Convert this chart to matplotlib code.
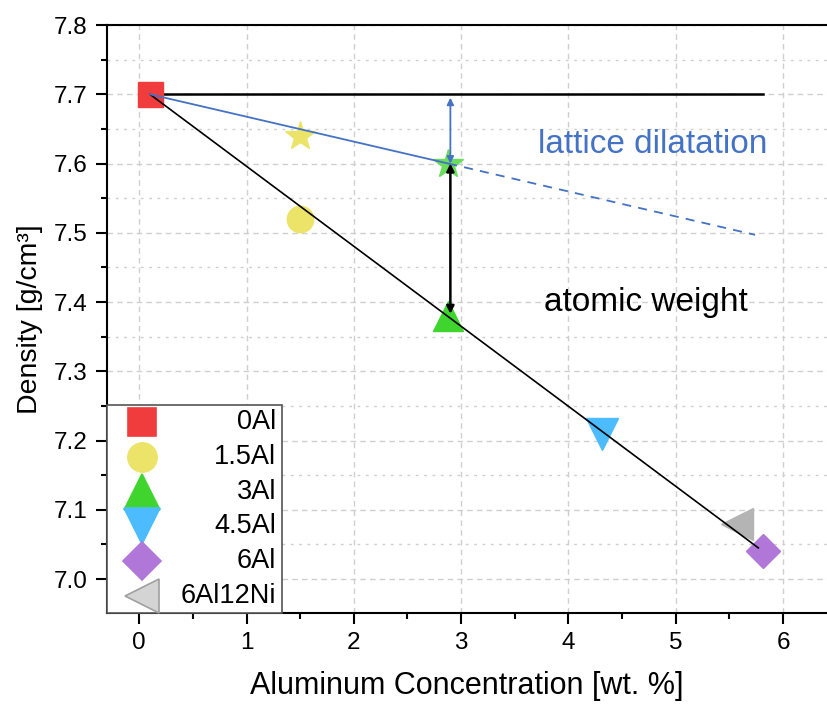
import numpy as np
import matplotlib
matplotlib.use('Agg')
from matplotlib import pyplot as plt
from matplotlib.ticker import MultipleLocator, FormatStrFormatter
from matplotlib.patches import Rectangle

plt.rcParams['font.family'] = ['Liberation Sans', 'DejaVu Sans']

# samples
labels = ['0Al', '1.5Al', '3Al', '4.5Al', '6Al', '6Al12Ni']
conc = [0.1, 1.5, 2.88, 4.31, 5.81, 5.57]
dens = [7.70, 7.52, 7.38, 7.21, 7.04, 7.08]
markers = ['s', 'o', '^', 'v', 'D', '<']
colors = ['#f03c3c', '#ece468', '#3fd42e', '#4cbcff', '#b077d9', '#b4b4b4']
sizes = [18, 19, 21, 23, 17, 23]
leg_sizes = [20, 21, 26, 26, 19, 24]

# lattice-only estimate (stars)
star_x = [1.5, 2.88]
star_y = [7.64, 7.60]
star_c = ['#ece468', '#6bdc5c']

# guide lines
ref_x = [0.1, 5.81]
ref_y = [7.70, 7.70]
aw_x = [0.1, 5.77]
aw_y = [7.70, 7.045]
ld_x = [0.1, 2.88]
ld_y = [7.70, 7.60]
ld_ext_x = [2.88, 5.74]
ld_ext_y = [7.60, 7.497]

fig = plt.figure(figsize=(8.27, 7.07), dpi=100)
ax = fig.add_axes([0.1294, 0.133, 0.8706, 0.8316])

ax.plot(ref_x, ref_y, color='black', lw=1.8, zorder=2)
ax.plot(aw_x, aw_y, color='black', lw=1.2, zorder=3)
ax.plot(ld_x, ld_y, color='#4472c4', lw=1.3, zorder=3)
ax.plot(ld_ext_x, ld_ext_y, color='#4472c4', lw=1.3, ls=(0, (5, 4)), zorder=3)

for i in range(len(labels)):
    ax.plot(conc[i], dens[i], marker=markers[i], color=colors[i], ms=sizes[i],
            ls='none', zorder=2)
for i in range(len(star_x)):
    ax.plot(star_x[i], star_y[i], marker='*', color=star_c[i], ms=22, ls='none', zorder=2)

# arrows
ax.annotate('', xy=(2.9, 7.695), xytext=(2.9, 7.600),
            arrowprops=dict(arrowstyle='<|-|>', color='#4472c4', lw=1.3, mutation_scale=10,
                            shrinkA=0, shrinkB=0), zorder=4)
ax.annotate('', xy=(2.9, 7.600), xytext=(2.9, 7.383),
            arrowprops=dict(arrowstyle='<|-|>', color='black', lw=1.8, mutation_scale=11,
                            shrinkA=0, shrinkB=0), zorder=4)

ax.text(3.72, 7.628, 'lattice dilatation', color='#4472c4', fontsize=24, va='center')
ax.text(3.77, 7.40, 'atomic weight', color='black', fontsize=24, va='center')

ax.set_xlim(-0.3, 6.41)
ax.set_ylim(6.951, 7.8)
ax.xaxis.set_major_locator(MultipleLocator(1))
ax.xaxis.set_minor_locator(MultipleLocator(0.5))
ax.yaxis.set_major_locator(MultipleLocator(0.1))
ax.yaxis.set_minor_locator(MultipleLocator(0.05))
ax.yaxis.set_major_formatter(FormatStrFormatter('%.1f'))
ax.tick_params(which='major', direction='out', length=8, width=1.5, labelsize=17.5, pad=6)
ax.tick_params(which='minor', direction='out', length=4, width=1.5)
for s in ['left', 'bottom', 'top']:
    ax.spines[s].set_linewidth(1.5)
ax.spines['right'].set_visible(False)

ax.grid(which='major', axis='both', color='#cfcfcf', ls=(0, (4, 3)), lw=1.0)
ax.grid(which='minor', axis='y', color='#cfcfcf', ls=(0, (2, 4)), lw=1.0)
ax.set_axisbelow(True)

ax.set_xlabel('Aluminum Concentration [wt. %]', fontsize=22, labelpad=12)
ax.set_ylabel('Density [g/cm³]', fontsize=20.5, labelpad=8)

# legend drawn by hand so the labels can be right-aligned
leg_w, leg_h = 0.243, 0.354
ax.add_patch(Rectangle((0, 0), leg_w, leg_h, transform=ax.transAxes, facecolor='white',
                       edgecolor='#555555', lw=1.2, zorder=5, clip_on=False))
row_h = leg_h / len(labels)
for i in range(len(labels)):
    yy = leg_h - (i + 0.5) * row_h
    ec = '#a0a0a0' if i == 5 else colors[i]
    fc = '#d4d4d4' if i == 5 else colors[i]
    ax.plot(0.049, yy, marker=markers[i], ms=leg_sizes[i], mfc=fc, mec=ec, mew=1.2,
            ls='none', transform=ax.transAxes, zorder=6, clip_on=False)
    ax.text(0.235, yy, labels[i], fontsize=19.5, ha='right', va='center',
            transform=ax.transAxes, zorder=6)

fig.savefig('out.png', dpi=100)
